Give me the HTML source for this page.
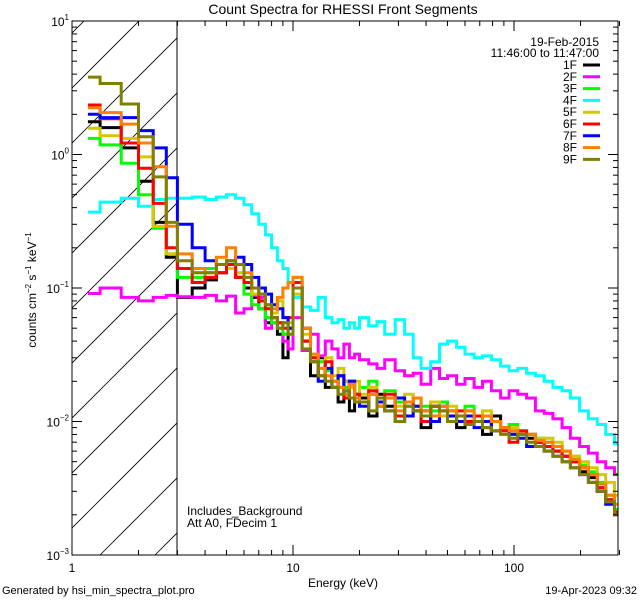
<!DOCTYPE html>
<html><head><meta charset="utf-8"><style>
html,body{margin:0;padding:0;background:#fff;}
svg{display:block;font-family:"Liberation Sans",sans-serif;}
</style></head><body>
<svg id="chart" width="640" height="600" viewBox="0 0 640 600" xmlns="http://www.w3.org/2000/svg">
<rect x="0" y="0" width="640" height="600" fill="#fff"/>
<text x="343" y="14" font-size="14" text-anchor="middle">Count Spectra for RHESSI Front Segments</text>
<defs><clipPath id="hclip"><rect x="72" y="21" width="105" height="534"/></clipPath><clipPath id="pclip"><rect x="72" y="21" width="546" height="534"/></clipPath></defs>
<g id="hatch" clip-path="url(#hclip)"></g>
<line x1="177" y1="21" x2="177" y2="555" stroke="#000" stroke-width="1"/>
<g id="series" clip-path="url(#pclip)"></g>
<g id="axes"></g>
<text x="187" y="515" font-size="12">Includes_Background</text>
<text x="187" y="527" font-size="12">Att A0, FDecim 1</text>
<text x="599" y="46" font-size="12" text-anchor="end">19-Feb-2015</text>
<text x="599" y="57" font-size="12" text-anchor="end">11:46:00 to 11:47:00</text>
<g id="legend"></g>
<text x="343" y="587" font-size="12" text-anchor="middle">Energy (keV)</text>
<text transform="translate(36,290) rotate(-90)" font-size="12" text-anchor="middle">counts cm<tspan font-size="8" dy="-5">−2</tspan><tspan dy="5"> s</tspan><tspan font-size="8" dy="-5">−1</tspan><tspan dy="5"> keV</tspan><tspan font-size="8" dy="-5">−1</tspan></text>
<text x="2" y="594" font-size="11">Generated by hsi_min_spectra_plot.pro</text>
<text x="637" y="594" font-size="11" text-anchor="end">19-Apr-2023 09:32</text>
</svg>
<script>
const edges=[1.18,1.34,1.67,2.0,2.33,2.67,3.0,3.5,4,4.5,5,5.5,6,6.5,7,7.5,8,8.5,9,9.5,10,11,12,13,14,15,16,17,18,19,20,22,24,26,29,32,35,38,42,46,50,55,60,66,72,79,87,95,104,114,125,137,150,165,180,198,217,238,260,285,300];
const seriesNames=["1F","2F","3F","4F","5F","6F","7F","8F","9F"];
const seriesColors=["#000000","#ff00ff","#00ff00","#00ffff","#d4c800","#ff0000","#0000ff","#ff8000","#808000"];
const s1F=[1.76,1.59,1.12,0.63,0.31,0.17, 0.085,0.1,0.115,0.13,0.14,0.12,0.1,0.085,0.07,0.055,0.06,0.045,0.03,0.05, 0.1,0.04,0.022,0.03,0.018,0.02,0.014,0.02,0.012,0.016, 0.015,0.011,0.016,0.013,0.01,0.014,0.012,0.009,0.013,0.011, 0.012,0.009,0.011,0.01,0.008,0.011,0.009,0.0085,0.008,0.0075, 0.007,0.0065,0.006,0.0055,0.005,0.0042,0.0038,0.003,0.0025,0.002];
const s2F=[0.091,0.10,0.085,0.08,0.085,0.088, 0.086,0.085,0.088,0.08,0.087,0.065,0.07,0.088,0.085,0.05,0.055,0.055,0.04,0.035, 0.06,0.034,0.045,0.031,0.04,0.035,0.03,0.038,0.03,0.032, 0.029,0.027,0.025,0.029,0.024,0.022,0.023,0.019,0.025,0.021, 0.022,0.019,0.021,0.018,0.02,0.017,0.015,0.017,0.016,0.015, 0.012,0.0115,0.0105,0.009,0.0075,0.0065,0.0058,0.005,0.0045,0.004];
const s3F=[1.32,1.18,0.86,0.5,0.28,0.18, 0.12,0.12,0.14,0.15,0.14,0.12,0.09,0.075,0.07,0.06,0.055,0.05,0.045,0.05, 0.12,0.05,0.03,0.028,0.024,0.02,0.022,0.018,0.02,0.016, 0.018,0.02,0.015,0.017,0.014,0.013,0.015,0.013,0.012,0.014, 0.012,0.011,0.013,0.011,0.01,0.01,0.009,0.0095,0.0085,0.008, 0.0075,0.007,0.0065,0.006,0.0055,0.0047,0.0042,0.0035,0.0028,0.0022];
const s4F=[0.37,0.44,0.47,0.41,0.46,0.47, 0.47,0.48,0.46,0.48,0.5,0.47,0.42,0.36,0.3,0.25,0.2,0.16,0.14,0.11, 0.085,0.072,0.068,0.085,0.06,0.055,0.058,0.05,0.055,0.05, 0.06,0.052,0.056,0.045,0.058,0.045,0.03,0.025,0.028,0.038, 0.04,0.036,0.032,0.03,0.031,0.029,0.026,0.024,0.025,0.023, 0.022,0.02,0.018,0.017,0.015,0.012,0.0105,0.0095,0.008,0.0068];
const s5F=[1.57,1.38,1.32,0.96,0.29,0.18, 0.14,0.13,0.13,0.15,0.14,0.13,0.11,0.09,0.08,0.07,0.065,0.08,0.06,0.055, 0.09,0.045,0.03,0.025,0.03,0.022,0.025,0.02,0.018,0.02, 0.016,0.018,0.014,0.015,0.013,0.016,0.013,0.012,0.014,0.011, 0.013,0.01,0.012,0.011,0.012,0.01,0.009,0.009,0.0085,0.008, 0.0075,0.0075,0.007,0.006,0.0055,0.005,0.0045,0.004,0.0035,0.0028];
const s6F=[2.35,1.85,1.22,0.79,0.43,0.2, 0.14,0.11,0.12,0.13,0.15,0.12,0.11,0.1,0.08,0.07,0.06,0.055,0.05,0.06, 0.11,0.04,0.03,0.022,0.028,0.018,0.022,0.015,0.02,0.016, 0.014,0.017,0.013,0.016,0.011,0.014,0.012,0.01,0.013,0.012, 0.011,0.012,0.01,0.011,0.009,0.01,0.0085,0.007,0.0085,0.008, 0.007,0.0065,0.006,0.0055,0.005,0.0045,0.004,0.0032,0.0026,0.0021];
const s7F=[2.0,1.89,1.89,1.51,1.12,0.67, 0.3,0.2,0.16,0.15,0.16,0.17,0.15,0.12,0.1,0.09,0.075,0.07,0.06,0.05, 0.1,0.05,0.028,0.02,0.025,0.018,0.022,0.016,0.02,0.015, 0.013,0.016,0.014,0.012,0.015,0.011,0.013,0.012,0.01,0.013, 0.011,0.01,0.011,0.009,0.01,0.0085,0.009,0.008,0.0075,0.0065, 0.0065,0.006,0.0055,0.005,0.0045,0.004,0.0035,0.003,0.0024,0.002];
const s8F=[2.24,2.06,1.69,1.22,0.81,0.29, 0.18,0.14,0.13,0.17,0.2,0.15,0.13,0.1,0.09,0.075,0.07,0.085,0.1,0.11, 0.12,0.05,0.032,0.025,0.022,0.02,0.018,0.016,0.019,0.015, 0.014,0.016,0.013,0.015,0.012,0.014,0.015,0.012,0.011,0.013, 0.012,0.011,0.012,0.01,0.011,0.01,0.009,0.0085,0.008,0.008, 0.0072,0.007,0.0065,0.006,0.0052,0.0045,0.004,0.0034,0.0028,0.0024];
const s9F=[3.8,3.4,2.39,1.36,0.68,0.31, 0.16,0.13,0.13,0.15,0.16,0.15,0.12,0.1,0.09,0.075,0.06,0.05,0.055,0.045, 0.1,0.035,0.028,0.022,0.02,0.018,0.016,0.017,0.015,0.014, 0.014,0.012,0.015,0.012,0.01,0.013,0.012,0.011,0.013,0.012, 0.01,0.011,0.0095,0.01,0.009,0.0085,0.008,0.0075,0.008,0.007, 0.0065,0.006,0.0055,0.005,0.0045,0.004,0.0035,0.003,0.0025,0.002];
const allSeries=[s1F,s2F,s3F,s4F,s5F,s6F,s7F,s8F,s9F];
const xTickLabels=["1","10","100"];
const yTickExps=["1","0","−1","−2","−3"];

const NS="http://www.w3.org/2000/svg";
const X0=72,X1=618,Y0=21,Y1=555;
const xDec=221, yDec=(Y1-Y0)/4;
function xs(e){return X0+Math.log10(e)*xDec;}
function ys(v){return Y1-(Math.log10(v)+3)*yDec;}
function mk(tag,attrs,parent){const el=document.createElementNS(NS,tag);for(const k in attrs)el.setAttribute(k,attrs[k]);parent.appendChild(el);return el;}

// hatch
const hatch=document.getElementById('hatch');
for(let k=-12;k<4;k++){
  const bx=100+55*k;
  const ln=mk('line',{x1:bx,y1:Y1,x2:bx+600,y2:Y1-600,stroke:'#000','stroke-width':0.8},hatch);
  
  
}

// series
const sg=document.getElementById('series');
allSeries.forEach((vals,i)=>{
  let d='';
  vals.forEach((v,j)=>{
    const xa=xs(edges[j]),xb=xs(edges[j+1]),y=ys(v);
    d+=(j===0?'M':'L')+xa.toFixed(1)+','+y.toFixed(1)+'L'+xb.toFixed(1)+','+y.toFixed(1);
  });
  const p=mk('path',{d:d,fill:'none',stroke:seriesColors[i],'stroke-width':3,'stroke-linejoin':'miter'},sg);
  
  
});

// axes
const ax=document.getElementById('axes');
const frame=mk('rect',{x:X0,y:Y0,width:X1-X0,height:Y1-Y0,fill:'none',stroke:'#000','stroke-width':1},ax);


for(let dec=0;dec<3;dec++){
  for(let m=1;m<10;m++){
    const e=m*Math.pow(10,dec);
    if(e>300)break;
    const x=xs(e);
    const L=m===1?10:5;
    const t1=mk('line',{x1:x,y1:Y1,x2:x,y2:Y1-L,stroke:'#000'},ax);
    
    
    const t2=mk('line',{x1:x,y1:Y0,x2:x,y2:Y0+L,stroke:'#000'},ax);
    
    
  }
}
xTickLabels.forEach((lab,i)=>{
  const t=mk('text',{x:xs(Math.pow(10,i)),y:Y1+17,'font-size':12,'text-anchor':'middle'},ax);
  t.textContent=lab;
  
  
});
for(let dec=-3;dec<1;dec++){
  for(let m=1;m<10;m++){
    const v=m*Math.pow(10,dec);
    const y=ys(v);
    const L=m===1?10:5;
    const t1=mk('line',{x1:X0,y1:y,x2:X0+L,y2:y,stroke:'#000'},ax);
    
    
    const t2=mk('line',{x1:X1,y1:y,x2:X1-L,y2:y,stroke:'#000'},ax);
    
    
  }
}
yTickExps.forEach((ex,i)=>{
  const y=ys(Math.pow(10,1-i));
  const t=mk('text',{x:X0-3,y:y+5,'font-size':12,'text-anchor':'end'},ax);
  
  
  const a=document.createElementNS(NS,'tspan');a.textContent='10';t.appendChild(a);
  const b=document.createElementNS(NS,'tspan');b.setAttribute('font-size','8');b.setAttribute('dy','-6');b.textContent=ex;t.appendChild(b);
});

// legend
const lg=document.getElementById('legend');
seriesNames.forEach((n,i)=>{
  const y=69+i*11.8;
  const t=mk('text',{x:577,y:y,'font-size':12,'text-anchor':'end'},lg);
  t.textContent=n;
  
  
  const l=mk('line',{x1:583,y1:y-4,x2:600,y2:y-4,stroke:seriesColors[i],'stroke-width':3},lg);
  
  
});
</script>
</body></html>
